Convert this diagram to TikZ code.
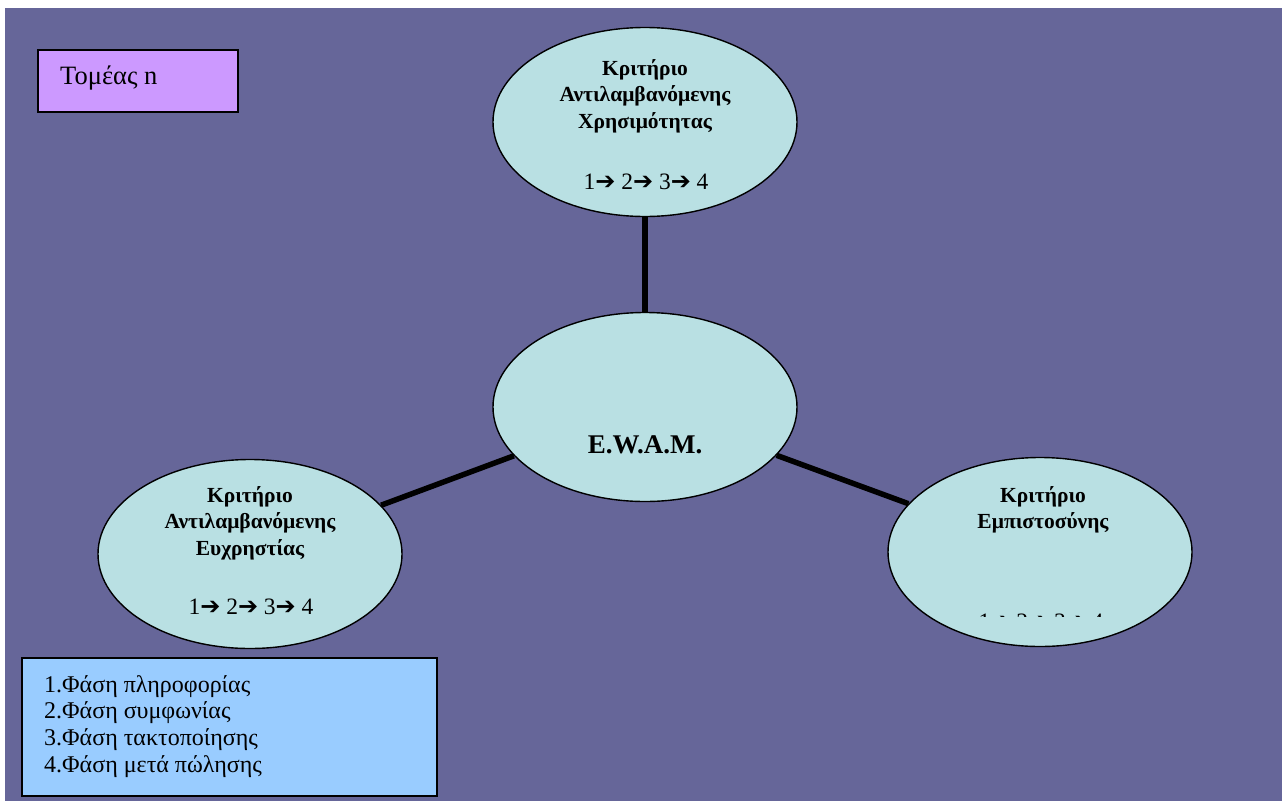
\documentclass[tikz,border=0pt]{standalone}
\usepackage{fontspec}
\setmainfont{Liberation Serif}
\newfontfamily\arrowfont{DejaVu Sans}
\usetikzlibrary{shapes.geometric}
\definecolor{bgpurple}{HTML}{666699}
\definecolor{ellfill}{HTML}{B9E0E3}
\definecolor{sectorfill}{HTML}{CC99FF}
\definecolor{legendfill}{HTML}{99CCFF}
\newcommand{\phasearrow}{{\arrowfont\fontsize{24}{24}\selectfont ➔}}
\tikzset{
  crit/.style={ellipse, draw=black, line width=1.4pt, fill=ellfill,
    minimum width=304pt, minimum height=189pt, inner sep=0pt},
  crittitle/.style={align=center, font=\bfseries\fontsize{21.5}{26.5}\selectfont, inner sep=0pt},
  phases/.style={font=\fontsize{23.5}{23.5}\selectfont, inner sep=0pt},
  link/.style={line width=5.5pt, black},
  panel/.style={draw=black, line width=1.8pt, inner sep=0pt, anchor=north west}
}
\begin{document}
\begin{tikzpicture}[x=1pt, y=-1pt]
  \useasboundingbox (0,0) rectangle (1282,801);
  \fill[white] (0,0) rectangle (1282,801);
  \fill[bgpurple] (5,8) rectangle (1282,801);

  % sector label
  \node[panel, fill=sectorfill, minimum width=200pt, minimum height=62pt] (sector) at (37,49) {};
  \node[anchor=west, font=\fontsize{26.5}{26.5}\selectfont, inner sep=0pt] (sectortext) at (60,78) {Τομέας n};

  % criteria ellipses
  \node[crit] (ewam) at (645,407) {};
  \node[crit] (useful) at (645,122) {};
  \node[crit] (usable) at (250,554) {};
  \node[crit] (trust) at (1040,552) {};

  % connectors
  \draw[link] (ewam) -- (useful);
  \draw[link] (ewam) -- (usable);
  \draw[link] (ewam) -- (trust);

  % texts
  \node[font=\bfseries\fontsize{27}{27}\selectfont, inner sep=0pt] (ewamtext) at (645,445) {E.W.A.M.};

  \node[crittitle] (usefultext) at (645,96) {Κριτήριο\\Αντιλαμβανόμενης\\Χρησιμότητας};
  \node[phases] (usefulphases) at (646,182) {1\phasearrow\ 2\phasearrow\ 3\phasearrow\ 4};

  \node[crittitle] (usabletext) at (250,523) {Κριτήριο\\Αντιλαμβανόμενης\\Ευχρηστίας};
  \node[phases] (usablephases) at (251,607) {1\phasearrow\ 2\phasearrow\ 3\phasearrow\ 4};

  \node[crittitle] (trusttext) at (1043,510) {Κριτήριο\\Εμπιστοσύνης};
  \begin{scope}
    \clip (880,560) rectangle (1200,616);
    \node[phases] (trustphases) at (1041,622) {1\phasearrow\ 2\phasearrow\ 3\phasearrow\ 4};
  \end{scope}

  % phase legend
  \node[panel, fill=legendfill, minimum width=415pt, minimum height=138pt] (legend) at (21,657) {};
  \node[anchor=north west, align=left, font=\fontsize{24}{26.7}\selectfont, inner sep=0pt] (legendtext) at (44,675)
    {1.Φάση πληροφορίας\\2.Φάση συμφωνίας\\3.Φάση τακτοποίησης\\4.Φάση μετά πώλησης};
\end{tikzpicture}
\end{document}
